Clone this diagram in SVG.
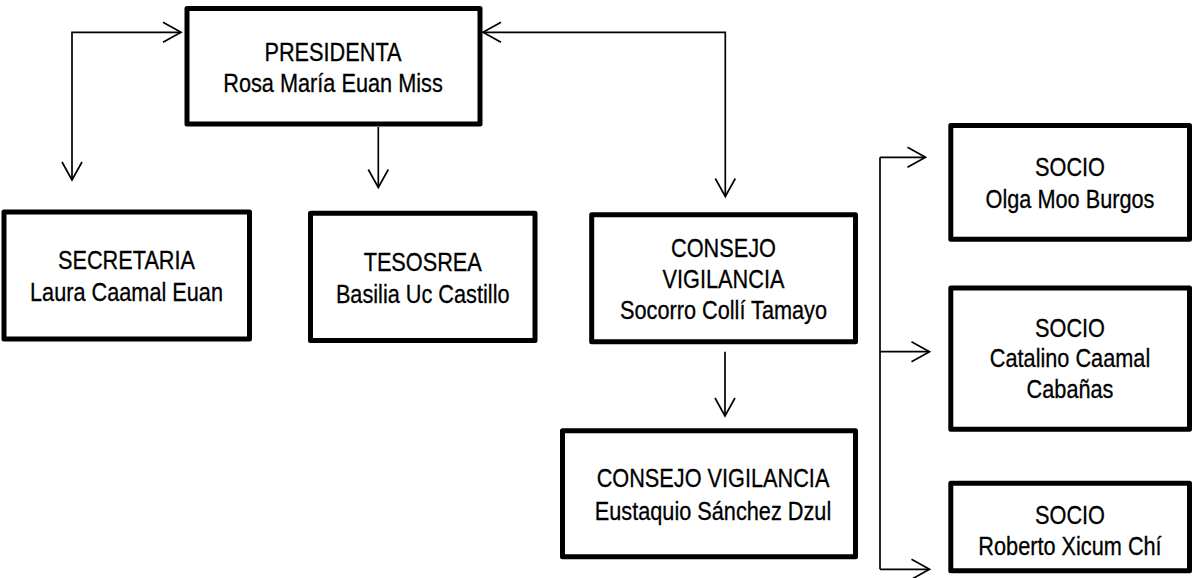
<svg xmlns="http://www.w3.org/2000/svg" width="1193" height="578" viewBox="0 0 1193 578">
<style>
.box{fill:#fff;stroke:#000;stroke-width:5;stroke-linejoin:round}
.t{font-family:"Liberation Sans",Arial,sans-serif;font-size:26px;fill:#000;stroke:#000;stroke-width:0.3;text-anchor:middle}
.c{fill:none;stroke:#000;stroke-width:1.7}
</style>
<defs>
<marker id="ah" viewBox="-20 -12 22 24" refX="0" refY="0" markerWidth="22" markerHeight="24" markerUnits="userSpaceOnUse" orient="auto-start-reverse">
<path d="M-18,-10 L0,0 L-18,10" fill="none" stroke="#000" stroke-width="1.7"/>
</marker>
</defs>
<rect width="1193" height="578" fill="#fff"/>
<g id="connectors">
<path class="c" d="M72,180 V32.3 H181" marker-start="url(#ah)" marker-end="url(#ah)"/>
<path class="c" d="M378.3,127 V187.5" marker-end="url(#ah)"/>
<path class="c" d="M483,32.3 H725.3 V196.5" marker-start="url(#ah)" marker-end="url(#ah)"/>
<path class="c" d="M725,351.7 V416" marker-end="url(#ah)"/>
<path class="c" d="M880,157.3 V569.3"/>
<path class="c" d="M880,157.3 H925.5" marker-end="url(#ah)"/>
<path class="c" d="M880,351.7 H929.5" marker-end="url(#ah)"/>
<path class="c" d="M880,569.3 H929.5" marker-end="url(#ah)"/>
</g>
<g id="presidenta">
<rect class="box" x="187" y="8.5" width="293" height="115.5"/>
<text class="t" x="0" y="61" transform="matrix(0.835 0 0 1 333 0)">PRESIDENTA</text>
<text class="t" x="0" y="91.7" transform="matrix(0.835 0 0 1 333 0)">Rosa María Euan Miss</text>
</g>
<g id="secretaria">
<rect class="box" x="4" y="212" width="245.5" height="127"/>
<text class="t" x="0" y="269" transform="matrix(0.835 0 0 1 126.5 0)">SECRETARIA</text>
<text class="t" x="0" y="301" transform="matrix(0.835 0 0 1 126.5 0)">Laura Caamal Euan</text>
</g>
<g id="tesosrea">
<rect class="box" x="310.5" y="213.3" width="224.5" height="127.2"/>
<text class="t" x="0" y="270.7" transform="matrix(0.835 0 0 1 422.7 0)">TESOSREA</text>
<text class="t" x="0" y="303.3" transform="matrix(0.835 0 0 1 422.7 0)">Basilia Uc Castillo</text>
</g>
<g id="consejo1">
<rect class="box" x="591.7" y="214.8" width="263.8" height="127"/>
<text class="t" x="0" y="257.3" transform="matrix(0.835 0 0 1 723.5 0)">CONSEJO</text>
<text class="t" x="0" y="287.8" transform="matrix(0.835 0 0 1 723.5 0)">VIGILANCIA</text>
<text class="t" x="0" y="319.3" transform="matrix(0.835 0 0 1 723.5 0)">Socorro Collí Tamayo</text>
</g>
<g id="consejo2">
<rect class="box" x="562.5" y="430.8" width="293" height="126"/>
<text class="t" x="0" y="487.3" transform="matrix(0.835 0 0 1 713 0)">CONSEJO VIGILANCIA</text>
<text class="t" x="0" y="520" transform="matrix(0.835 0 0 1 713 0)">Eustaquio Sánchez Dzul</text>
</g>
<g id="socio1">
<rect class="box" x="950.8" y="125.5" width="238.7" height="113.7"/>
<text class="t" x="0" y="176" transform="matrix(0.835 0 0 1 1070 0)">SOCIO</text>
<text class="t" x="0" y="208.3" transform="matrix(0.835 0 0 1 1070 0)">Olga Moo Burgos</text>
</g>
<g id="socio2">
<rect class="box" x="950.8" y="288" width="238.7" height="141.2"/>
<text class="t" x="0" y="336.7" transform="matrix(0.835 0 0 1 1070 0)">SOCIO</text>
<text class="t" x="0" y="366.7" transform="matrix(0.835 0 0 1 1070 0)">Catalino Caamal</text>
<text class="t" x="0" y="398.3" transform="matrix(0.835 0 0 1 1070 0)">Cabañas</text>
</g>
<g id="socio3">
<rect class="box" x="950.8" y="483.3" width="238.7" height="87.5"/>
<text class="t" x="0" y="524" transform="matrix(0.835 0 0 1 1070 0)">SOCIO</text>
<text class="t" x="0" y="555" transform="matrix(0.835 0 0 1 1070 0)">Roberto Xicum Chí</text>
</g>
</svg>
